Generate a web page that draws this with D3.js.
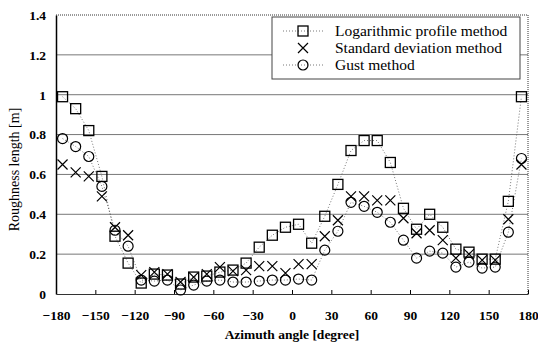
<!DOCTYPE html>
<html lang="en">
<head>
  <meta charset="UTF-8">
  <title>Roughness length vs azimuth angle</title>
  <script src="https://d3js.org/d3.v7.min.js"></script>
  <style>
    body { margin: 0; background: #fff; }
    svg { display: block; }
  </style>
</head>
<body>
  <svg id="chart" width="538" height="345"></svg>
  <script>
    const FONT = "'Liberation Serif', 'DejaVu Serif', 'Times New Roman', Times, serif";

    // azimuth angle of each point (degrees)
    const angles = [-175, -165, -155, -145, -135, -125, -115, -105, -95, -85, -75, -65,
                    -55, -45, -35, -25, -15, -5, 5, 15, 25, 35, 45, 55,
                    65, 75, 85, 95, 105, 115, 125, 135, 145, 155, 165, 175];

    // roughness length [m]
    const logProfile = [0.99, 0.93, 0.82, 0.59, 0.29, 0.155, 0.055, 0.10, 0.095, 0.05, 0.085, 0.09,
                        0.11, 0.12, 0.155, 0.235, 0.295, 0.335, 0.35, 0.255, 0.39, 0.55, 0.72, 0.77,
                        0.77, 0.66, 0.43, 0.325, 0.40, 0.335, 0.225, 0.21, 0.175, 0.175, 0.465, 0.99];
    const stdDev =     [0.65, 0.61, 0.59, 0.49, 0.335, 0.295, 0.095, 0.11, 0.10, 0.06, 0.085, 0.10,
                        0.135, 0.115, 0.12, 0.14, 0.14, 0.105, 0.15, 0.15, 0.29, 0.37, 0.49, 0.49,
                        0.47, 0.47, 0.38, 0.305, 0.32, 0.27, 0.18, 0.20, 0.17, 0.17, 0.375, 0.65];
    const gust =       [0.78, 0.74, 0.69, 0.54, 0.32, 0.24, 0.07, 0.065, 0.07, 0.02, 0.045, 0.065,
                        0.07, 0.06, 0.06, 0.065, 0.07, 0.07, 0.075, 0.07, 0.22, 0.315, 0.46, 0.44,
                        0.41, 0.36, 0.27, 0.18, 0.215, 0.205, 0.135, 0.16, 0.13, 0.135, 0.31, 0.68];

    const xTicks = [-180, -150, -120, -90, -60, -30, 0, 30, 60, 90, 120, 150, 180];
    const yTicks = [0, 0.2, 0.4, 0.6, 0.8, 1, 1.2, 1.4];

    const legendNames = ["Logarithmic profile method", "Standard deviation method", "Gust method"];

    const svg = d3.select("#chart").attr("font-family", FONT);
    const margin = { top: 15, right: 10, bottom: 51, left: 56 };
    const width = 538 - margin.left - margin.right;
    const height = 345 - margin.top - margin.bottom;

    const g = svg.append("g").attr("transform", `translate(${margin.left},${margin.top})`);

    const x = d3.scaleLinear().domain([-180, 180]).range([0, width]);
    const y = d3.scaleLinear().domain([0, 1.4]).range([height, 0]);

    // horizontal grid lines
    g.selectAll(".grid").data(yTicks.filter(t => t > 0 && t < 1.4)).join("line")
      .attr("x1", 0).attr("x2", width)
      .attr("y1", d => y(d)).attr("y2", d => y(d))
      .attr("stroke", "#777").attr("stroke-width", 1);

    // dotted top & right borders
    g.append("line").attr("x1", 0).attr("x2", width).attr("y1", 0).attr("y2", 0)
      .attr("stroke", "#333").attr("stroke-dasharray", "1,1");
    g.append("line").attr("x1", width).attr("x2", width).attr("y1", 0).attr("y2", height)
      .attr("stroke", "#333").attr("stroke-dasharray", "1,1");

    // y axis
    const yAxis = g.append("g")
      .call(d3.axisLeft(y).tickValues(yTicks).tickSize(0).tickPadding(10)
        .tickFormat(d => d3.format("")(+d.toFixed(1))));
    yAxis.attr("font-family", FONT);
    yAxis.select(".domain").attr("stroke", "#000").attr("stroke-width", 1.5);
    yAxis.selectAll("text").attr("font-size", 13.5).attr("font-weight", "bold").attr("font-family", FONT);

    // x axis (ticks point inward)
    const xAxis = g.append("g").attr("transform", `translate(0,${height})`)
      .call(d3.axisBottom(x).tickValues(xTicks).tickSizeInner(-4).tickSizeOuter(0).tickPadding(16));
    xAxis.attr("font-family", FONT);
    xAxis.select(".domain").attr("stroke", "#333").attr("stroke-width", 1.2);
    xAxis.selectAll("text").attr("font-size", 13.5).attr("font-weight", "bold").attr("font-family", FONT);

    // axis titles
    svg.append("text")
      .attr("transform", `translate(14,${margin.top + height / 2 + 15}) rotate(-90)`)
      .attr("text-anchor", "middle").attr("dy", "0.35em")
      .attr("font-size", 14)
      .text("Roughness length [m]");
    svg.append("text")
      .attr("x", margin.left + width / 2).attr("y", 339)
      .attr("text-anchor", "middle")
      .attr("font-size", 13.5).attr("font-weight", "bold")
      .text("Azimuth angle [degree]");

    const line = d3.line().x(d => x(d[0])).y(d => y(d[1]));
    const pairs = vals => angles.map((a, i) => [a, vals[i]]);

    // dotted connecting lines
    [logProfile, gust].forEach(vals => {
      g.append("path").datum(pairs(vals))
        .attr("d", line).attr("fill", "none")
        .attr("stroke", "#555").attr("stroke-width", 0.8).attr("stroke-dasharray", "1,2");
    });

    // marker drawers
    function square(sel, s) {
      sel.append("rect").attr("x", -s / 2).attr("y", -s / 2).attr("width", s).attr("height", s)
        .attr("fill", "none").attr("stroke", "#000").attr("stroke-width", 1.3);
    }
    function cross(sel, s) {
      sel.append("path").attr("d", `M${-s / 2},${-s / 2}L${s / 2},${s / 2}M${-s / 2},${s / 2}L${s / 2},${-s / 2}`)
        .attr("stroke", "#000").attr("stroke-width", 1.2).attr("fill", "none");
    }
    function circle(sel, s) {
      sel.append("circle").attr("r", s / 2)
        .attr("fill", "none").attr("stroke", "#000").attr("stroke-width", 1.2);
    }

    const series = [
      { vals: logProfile, draw: square },
      { vals: stdDev, draw: cross },
      { vals: gust, draw: circle }
    ];

    series.forEach(s => {
      pairs(s.vals).forEach(p => {
        const m = g.append("g").attr("transform", `translate(${x(p[0])},${y(p[1])})`);
        s.draw(m, 10);
      });
    });

    // legend
    const legend = svg.append("g").attr("transform", "translate(272,17)");
    legend.append("rect").attr("width", 248).attr("height", 62)
      .attr("fill", "#fff").attr("stroke", "#444").attr("stroke-width", 1);
    legendNames.forEach((name, i) => {
      const row = legend.append("g").attr("transform", `translate(0,${14 + i * 17})`);
      if (i !== 1) {
        row.append("line").attr("x1", 11).attr("x2", 52).attr("y1", 0).attr("y2", 0)
          .attr("stroke", "#555").attr("stroke-width", 0.8).attr("stroke-dasharray", "1,2");
      }
      const m = row.append("g").attr("transform", "translate(31,0)");
      series[i].draw(m, 10);
      row.append("text").attr("x", 63).attr("dy", "0.35em")
        .attr("font-size", 15.5).text(name);
    });
  </script>
</body>
</html>
